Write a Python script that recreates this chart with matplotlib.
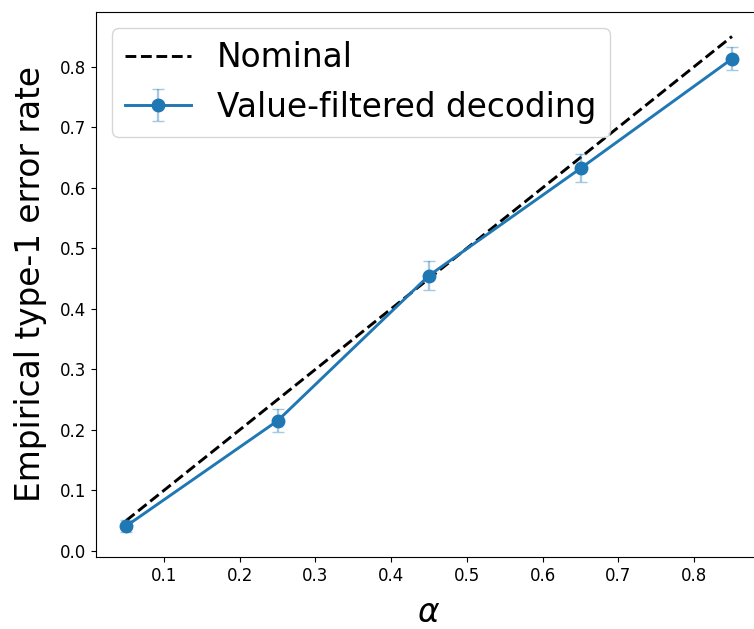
import numpy as np
import matplotlib
matplotlib.use("Agg")
import matplotlib.pyplot as plt

# alpha levels and measured type-1 error rates
alphas = [0.05, 0.25, 0.45, 0.65, 0.85]
nominal = [0.05, 0.25, 0.45, 0.65, 0.85]
err_rate = [0.041, 0.215, 0.455, 0.632, 0.813]
err_bar = [0.010, 0.019, 0.024, 0.023, 0.019]

fig = plt.figure(figsize=(7.54, 6.29), dpi=100)
ax = fig.add_axes([0.127, 0.1145, 0.884, 0.867])

ax.plot(alphas, nominal, "k--", lw=2.1, label="Nominal")
ax.errorbar(alphas, err_rate, yerr=err_bar, fmt="-o", color="tab:blue",
            lw=2.1, ms=9, capsize=4.5, ecolor=(0.12, 0.47, 0.71, 0.4),
            elinewidth=1.7, label="Value-filtered decoding")

ax.set_xlabel(r"$\alpha$", fontsize=23.6, labelpad=8)
ax.set_ylabel("Empirical type-1 error rate", fontsize=23.6, labelpad=9)
ax.tick_params(labelsize=12)
ax.set_xticks(np.arange(0.1, 0.81, 0.1))
ax.set_yticks(np.arange(0.0, 0.81, 0.1))
ax.legend(loc="upper left", fontsize=23.6)

fig.savefig("out.png", dpi=100)
